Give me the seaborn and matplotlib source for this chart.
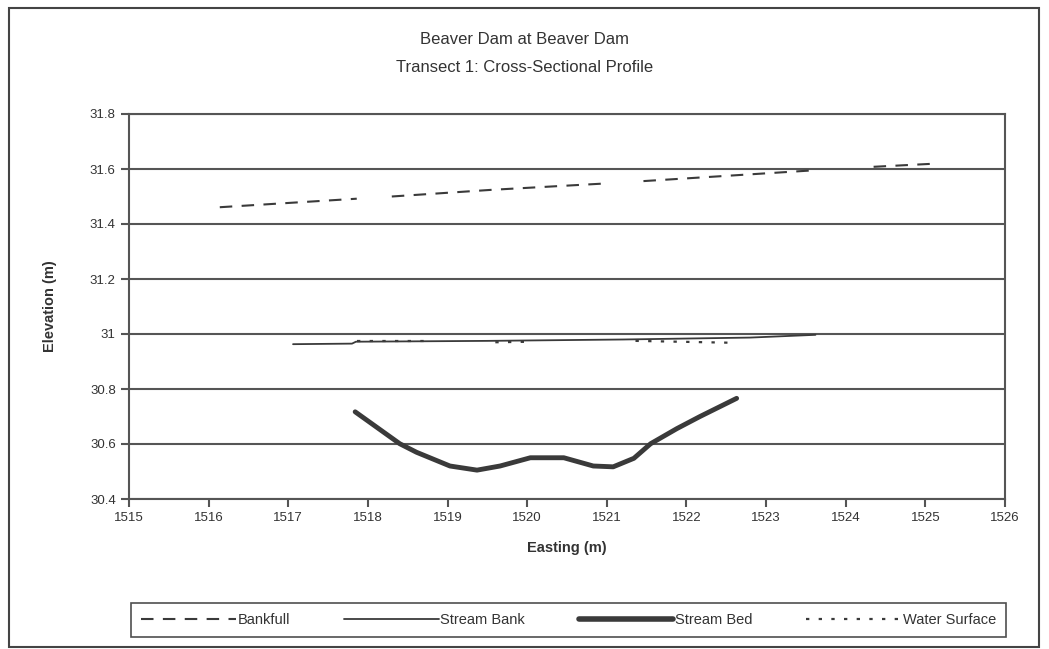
import matplotlib
matplotlib.use("Agg")
import matplotlib.pyplot as plt
from matplotlib.lines import Line2D
from matplotlib.patches import Rectangle
from matplotlib.ticker import FormatStrFormatter, FuncFormatter
import pandas as pd
import seaborn as sns

# --- data ---
# Bankfull (dashed), drawn in pieces where the reference shows gaps
bankfull_x = [1516.14, 1517.86, 1518.30, 1519.54, 1521.02, 1521.46, 1523.64, 1524.35, 1525.09]
bankfull_y = [31.461, 31.492, 31.500, 31.524, 31.548, 31.556, 31.596, 31.608, 31.619]
bankfull_seg = [0, 0, 1, 1, 1, 2, 2, 3, 3]

# Stream Bank (thin solid)
bank_x = [1517.06, 1517.80, 1517.85, 1519.50, 1521.20, 1522.80, 1523.62]
bank_y = [30.963, 30.965, 30.972, 30.975, 30.980, 30.987, 30.997]

# Stream Bed (thick solid)
bed_x = [1517.84, 1518.40, 1518.61, 1519.03, 1519.37, 1519.66, 1520.04, 1520.46,
         1520.83, 1521.08, 1521.34, 1521.55, 1521.88, 1522.17, 1522.63]
bed_y = [30.717, 30.601, 30.570, 30.520, 30.505, 30.520, 30.550, 30.550,
         30.520, 30.517, 30.548, 30.601, 30.656, 30.700, 30.766]

# Water Surface (dotted), three pieces
water_x = [1517.86, 1518.80, 1519.60, 1520.06, 1521.36, 1522.60]
water_y = [30.974, 30.974, 30.970, 30.972, 30.975, 30.968]
water_seg = [0, 0, 1, 1, 2, 2]

x_ticks = list(range(1515, 1527))
y_ticks = [30.4, 30.6, 30.8, 31.0, 31.2, 31.4, 31.6, 31.8]

sns.set_style("white")
plt.rcParams['font.family'] = ['Liberation Sans Narrow', 'Liberation Sans', 'DejaVu Sans']

grey = "#555555"
txt = "#333333"

fig = plt.figure(figsize=(10.49, 6.49), dpi=100)
fig.patch.set_facecolor("white")
ax = fig.add_axes([129 / 1049, 1 - 499 / 649, 876 / 1049, 385 / 649])

df_bf = pd.DataFrame({"x": bankfull_x, "y": bankfull_y, "seg": bankfull_seg})
df_bank = pd.DataFrame({"x": bank_x, "y": bank_y})
df_bed = pd.DataFrame({"x": bed_x, "y": bed_y})
df_ws = pd.DataFrame({"x": water_x, "y": water_y, "seg": water_seg})

bf_style = (0, (6, 4.5))
ws_style = (0, (1.5, 4.2))

sns.lineplot(data=df_bf, x="x", y="y", units="seg", estimator=None, sort=False,
             color="#3a3a3a", linewidth=1.5, linestyle=bf_style, ax=ax)
sns.lineplot(data=df_bank, x="x", y="y", estimator=None, sort=False,
             color="#3a3a3a", linewidth=1.3, ax=ax)
sns.lineplot(data=df_ws, x="x", y="y", units="seg", estimator=None, sort=False,
             color="#3a3a3a", linewidth=1.6, linestyle=ws_style, ax=ax)
sns.lineplot(data=df_bed, x="x", y="y", estimator=None, sort=False,
             color="#3a3a3a", linewidth=3.5, ax=ax)

ax.set_xlim(1515, 1526)
ax.set_ylim(30.4, 31.8)
ax.set_xticks(x_ticks)
ax.set_yticks(y_ticks)
ax.yaxis.set_major_formatter(FuncFormatter(lambda v, p: f"{v:g}"))
ax.xaxis.set_major_formatter(FormatStrFormatter("%d"))

ax.yaxis.grid(True, color=grey, linewidth=1.5)
ax.xaxis.grid(False)
ax.set_axisbelow(True)
for s in ax.spines.values():
    s.set_color(grey)
    s.set_linewidth(1.5)

ax.tick_params(axis="both", direction="out", length=6, width=1.5, color=grey,
               labelsize=9.5, labelcolor=txt, left=True, bottom=True)

ax.set_xlabel("Easting (m)", fontsize=10.5, fontweight="bold", color=txt, labelpad=12)
ax.set_ylabel("Elevation (m)", fontsize=10.5, fontweight="bold", color=txt, labelpad=24)

fig.text(0.5, 1 - 40 / 649, "Beaver Dam at Beaver Dam", ha="center", va="center",
         fontsize=12, color=txt)
fig.text(0.5, 1 - 68 / 649, "Transect 1: Cross-Sectional Profile", ha="center", va="center",
         fontsize=12, color=txt)

handles = [
    Line2D([], [], color="#3a3a3a", linewidth=1.5, linestyle=bf_style),
    Line2D([], [], color="#3a3a3a", linewidth=1.3),
    Line2D([], [], color="#3a3a3a", linewidth=4),
    Line2D([], [], color="#3a3a3a", linewidth=1.6, linestyle=ws_style),
]
labels = ["Bankfull", "Stream Bank", "Stream Bed", "Water Surface"]
leg = fig.legend(handles, labels, loc="lower left", ncol=4, mode="expand",
                 bbox_to_anchor=(131 / 1049, 1 - 637 / 649, 875 / 1049, 40 / 649),
                 fontsize=10.5, handlelength=6.5, handletextpad=0.1, frameon=True,
                 fancybox=False, borderaxespad=0, borderpad=0.7)
leg.get_frame().set_edgecolor("#222222")
leg.get_frame().set_linewidth(1.2)
for t in leg.get_texts():
    t.set_color(txt)

# outer chart-area border
fig.patches.append(Rectangle((9 / 1049, 2 / 649), 1030 / 1049, 639 / 649,
                             transform=fig.transFigure, fill=False,
                             edgecolor="#444444", linewidth=1.5))

fig.savefig("out.png", dpi=100)
